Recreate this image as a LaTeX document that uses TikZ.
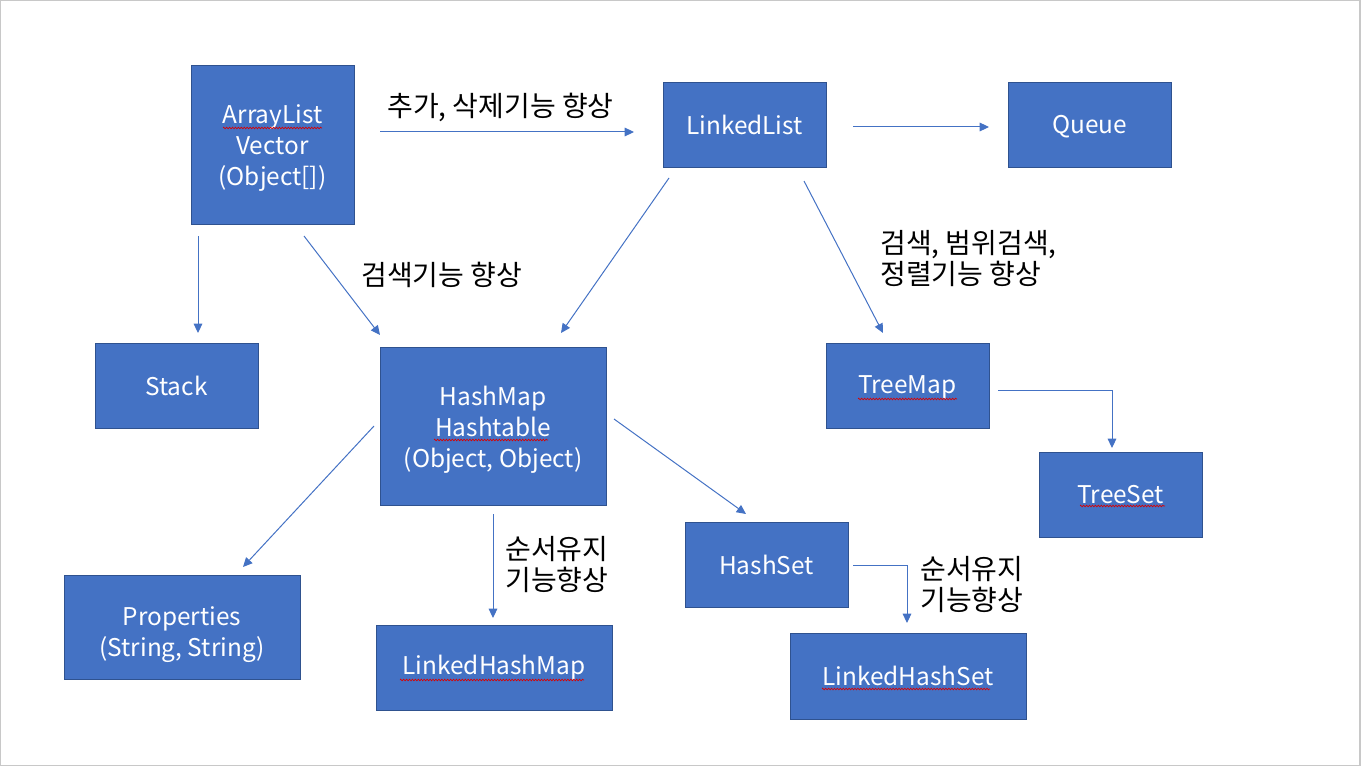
\documentclass[tikz,border=0pt]{standalone}
\usepackage{fontspec}
\setmainfont{Noto Sans CJK KR}
\usetikzlibrary{arrows.meta,decorations.pathmorphing}
\definecolor{boxfill}{HTML}{4472C4}
\definecolor{boxline}{HTML}{2F528F}
\definecolor{framegray}{HTML}{C8C8C8}
\tikzset{
  cbox/.style={draw=boxline, fill=boxfill, line width=0.75pt, inner sep=0pt},
  btext/.style={text=white, align=center, inner sep=0pt, font=\fontsize{18.3}{23.25}\selectfont},
  conn/.style={draw=boxfill, line width=0.75pt, -{Triangle[length=7pt,width=6.5pt]}},
  lbl/.style={align=left, anchor=west, inner sep=0pt, font=\fontsize{21}{23.25}\selectfont, text=black},
  squig/.style={draw=red!85!black, line width=0.5pt, decorate,
    decoration={zigzag, amplitude=0.6pt, segment length=2.2pt}}
}
\begin{document}
\begin{tikzpicture}[x=0.75pt,y=-0.75pt]
\useasboundingbox (0,0) rectangle (1361,767);
\draw[framegray, line width=1pt] (0.5,0.5) rectangle (1360,765.5);

% boxes
\node[cbox, minimum width=163*0.75pt, minimum height=158*0.75pt,
  label={[btext, yshift=-2.6pt]center:{ArrayList\\Vector\\(Object[])}}] (al) at (272.5,145) {};
\node[cbox, minimum width=163*0.75pt, minimum height=84*0.75pt,
  label={[btext]center:LinkedList}] (ll) at (744.5,125) {};
\node[cbox, minimum width=163*0.75pt, minimum height=84*0.75pt,
  label={[btext, yshift=-1.5pt]center:Queue}] (qu) at (1089.5,125) {};
\node[cbox, minimum width=163*0.75pt, minimum height=85*0.75pt,
  label={[btext]center:Stack}] (st) at (176.5,385.5) {};
\node[cbox, minimum width=226*0.75pt, minimum height=158*0.75pt,
  label={[btext, yshift=-2.6pt]center:{HashMap\\Hashtable\\(Object, Object)}}] (hm) at (493,426) {};
\node[cbox, minimum width=163*0.75pt, minimum height=85*0.75pt,
  label={[btext, yshift=-1.5pt]center:TreeMap}] (tm) at (907.5,385.5) {};
\node[cbox, minimum width=163*0.75pt, minimum height=85*0.75pt,
  label={[btext]center:TreeSet}] (ts) at (1120.5,494.5) {};
\node[cbox, minimum width=163*0.75pt, minimum height=85*0.75pt,
  label={[btext]center:HashSet}] (hs) at (766.5,564.5) {};
\node[cbox, minimum width=236*0.75pt, minimum height=104*0.75pt,
  label={[btext, yshift=-6pt]center:{Properties\\(String, String)}}] (pr) at (182,627) {};
\node[cbox, minimum width=236*0.75pt, minimum height=85*0.75pt,
  label={[btext]center:LinkedHashMap}] (lhm) at (494,667.5) {};
\node[cbox, minimum width=236*0.75pt, minimum height=86*0.75pt,
  label={[btext]center:LinkedHashSet}] (lhs) at (908,676) {};

% spell-check squiggles
\draw[squig] (223,128) -- (322,128);
\draw[squig] (434,440) -- (548,440);
\draw[squig] (858,399) -- (957,399);
\draw[squig] (1080,506) -- (1165,506);
\draw[squig] (400,680) -- (584,680);
\draw[squig] (822,689) -- (990,689);

% connector end points
\coordinate (a1) at (380,132); \coordinate (a2) at (634,132);
\coordinate (b1) at (853,127); \coordinate (b2) at (989,127);
\coordinate (c1) at (198,236); \coordinate (c2) at (198,333);
\coordinate (d1) at (304,236); \coordinate (d2) at (380,335);
\coordinate (e1) at (669,178); \coordinate (e2) at (561,333);
\coordinate (f1) at (804,181); \coordinate (f2) at (883,333);
\coordinate (g1) at (998,390); \coordinate (g2) at (1112,448);
\coordinate (h1) at (374,426); \coordinate (h2) at (243,567);
\coordinate (i1) at (493,514); \coordinate (i2) at (493,618);
\coordinate (j1) at (614,419); \coordinate (j2) at (746,514);
\coordinate (k1) at (853,565); \coordinate (k2) at (907,623);

\draw[conn] (a1) -- (a2);
\draw[conn] (b1) -- (b2);
\draw[conn] (c1) -- (c2);
\draw[conn] (d1) -- (d2);
\draw[conn] (e1) -- (e2);
\draw[conn] (f1) -- (f2);
\draw[conn] (g1) -| (g2);
\draw[conn] (h1) -- (h2);
\draw[conn] (i1) -- (i2);
\draw[conn] (j1) -- (j2);
\draw[conn] (k1) -| (k2);

% labels
\node[lbl] (la) at (387,107) {추가, 삭제기능 향상};
\node[lbl] (ld) at (361,275) {검색기능 향상};
\node[lbl] (lf) at (880,258.5) {검색, 범위검색,\\정렬기능 향상};
\node[lbl] (li) at (505,565) {순서유지\\기능향상};
\node[lbl] (lk) at (920,584.5) {순서유지\\기능향상};
\end{tikzpicture}
\end{document}
